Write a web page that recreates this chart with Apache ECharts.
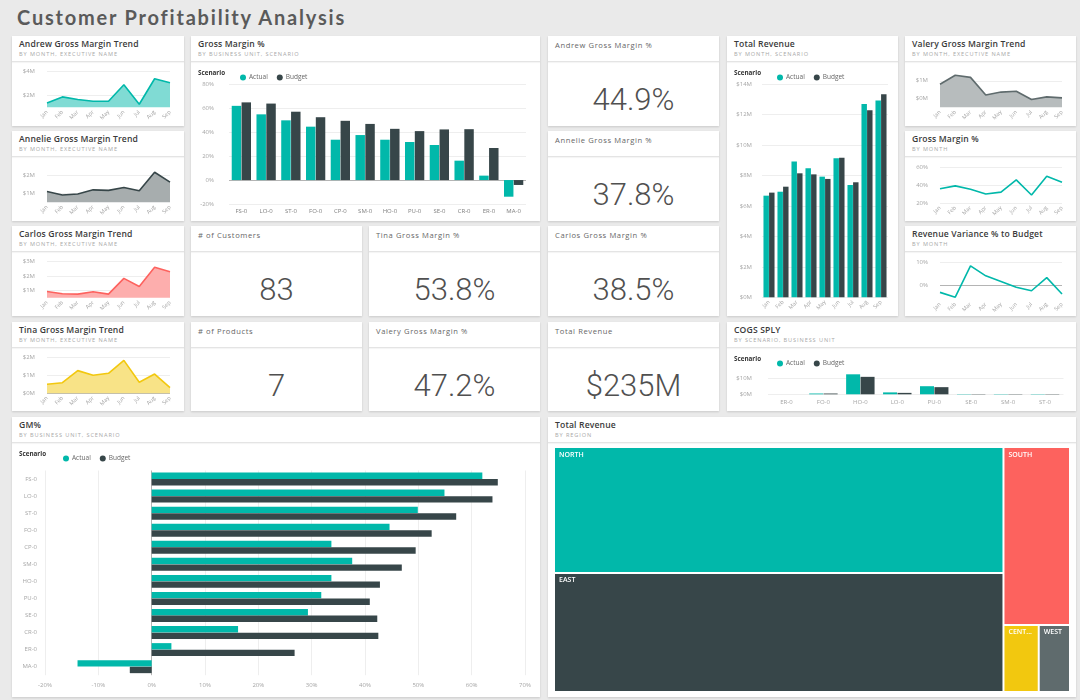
<!DOCTYPE html>
<html>
<head>
<meta charset="utf-8">
<script src="https://cdn.jsdelivr.net/npm/echarts@6/dist/echarts.min.js"></script>
<style>
  html,body{margin:0;padding:0;}
  body{width:1080px;height:700px;background:#eaeaea;overflow:hidden;position:relative;font-family:"Open Sans","Noto Sans",sans-serif;}
  .title{position:absolute;left:17px;top:5px;font-family:Lato,"Open Sans",sans-serif;font-weight:700;font-size:20px;color:#5a5a5a;letter-spacing:1.8px;}
  .tile{position:absolute;background:#fff;box-shadow:0 1px 2px rgba(0,0,0,0.14);}
  .hdr{position:absolute;left:0;top:0;right:0;height:25px;border-bottom:1px solid #e4e4e4;box-shadow:0 1px 1px rgba(0,0,0,0.04);}
  .t{position:absolute;left:7px;top:3px;font-size:8.6px;line-height:10px;font-weight:600;color:#3a3a3a;white-space:nowrap;letter-spacing:0.15px;}
  .s{position:absolute;left:7px;top:15px;font-size:5.6px;line-height:7px;color:#a8a8a8;white-space:nowrap;letter-spacing:0.9px;}
  .kt{position:absolute;left:7px;top:5px;font-size:7.6px;line-height:9px;color:#666;white-space:nowrap;letter-spacing:0.6px;}
  .body{position:absolute;left:0;right:0;top:26px;bottom:0;}
  .kv{position:absolute;left:0;right:0;top:22px;text-align:center;font-family:Roboto,"Open Sans",sans-serif;font-weight:300;font-size:31px;line-height:32px;color:#505050;}
</style>
</head>
<body>
<div class="title">Customer Profitability Analysis</div>
<script>
// ---------------- DATA ----------------
const months = ['Jan','Feb','Mar','Apr','May','Jun','Jul','Aug','Sep'];
const andrewGM  = [1.36, 1.86, 1.64, 1.50, 1.50, 2.86, 1.25, 3.36, 3.03];   // $M
const annelieGM = [1.11, 0.91, 0.97, 1.20, 1.17, 1.33, 1.15, 2.19, 1.63];   // $M
const carlosGM  = [0.93, 0.77, 0.75, 0.91, 0.75, 1.84, 1.28, 2.61, 2.30];   // $M
const tinaGM    = [0.50, 0.59, 1.26, 1.00, 1.11, 1.83, 0.61, 1.07, 0.31];   // $M
const valeryGM  = [0.80, 1.31, 1.19, 0.19, 0.36, 0.41, -0.06, 0.09, 0.03];  // $M
const gmPctByMonth = [35.9, 39.2, 35.5, 30.0, 32.2, 45.9, 28.9, 50.0, 43.3]; // %
const revVariancePct = [-2.9, -5.0, 8.6, 4.3, 1.8, -0.7, -2.2, 3.5, -3.6];  // %
const revenueActual = [6.68, 6.94, 8.92, 8.48, 7.93, 9.14, 7.38, 12.71, 12.93]; // $M
const revenueBudget = [6.88, 7.27, 8.15, 8.08, 7.78, 9.18, 7.56, 12.29, 13.35]; // $M

const units = ['FS-0','LO-0','ST-0','FO-0','CP-0','SM-0','HO-0','PU-0','SE-0','CR-0','ER-0','MA-0'];
const gmActual = [62.0, 54.9, 49.9, 44.6, 33.7, 37.6, 33.7, 31.8, 29.3, 16.2, 3.7, -13.9]; // %
const gmBudget = [64.9, 63.9, 57.1, 52.5, 49.5, 46.9, 42.8, 40.9, 42.3, 42.5, 26.8, -4.1]; // %

const cogsUnits  = ['ER-0','FO-0','HO-0','LO-0','PU-0','SE-0','SM-0','ST-0'];
const cogsActual = [0, 0.5, 12.6, 1.2, 5.1, 0.2, 0.2, 0.2]; // $M
const cogsBudget = [0, 0.5, 11.0, 0.9, 4.5, 0.2, 0.2, 0.2]; // $M

const regions = ['NORTH','EAST','SOUTH','CENTRAL','WEST'];
const regionRevenue = [105.2, 99.5, 22.0, 4.4, 3.9]; // $M

const kpiTitles = ['Andrew Gross Margin %','Annelie Gross Margin %','# of Customers','Tina Gross Margin %','Carlos Gross Margin %','# of Products','Valery Gross Margin %','Total Revenue'];
const kpiValues = ['44.9%','37.8%','83','53.8%','38.5%','7','47.2%','$' + Math.round(regionRevenue.reduce((a,b)=>a+b,0)) + 'M'];

// ---------------- STYLE ----------------
const FONT = '"Open Sans","Noto Sans",sans-serif';
const TEAL = '#01B8AA', DARK = '#374649', RED = '#FD625E', YEL = '#F2C80F', GREY = '#5F6B6D';
const regionColors = [TEAL, DARK, RED, YEL, GREY];

// ---------------- LAYOUT ----------------
const tiles = [
  {id:'andrew',  x:12,  y:36,  w:172, h:90,  t:'Andrew Gross Margin Trend',  s:'BY MONTH, EXECUTIVE NAME'},
  {id:'annelie', x:12,  y:131, w:172, h:90,  t:'Annelie Gross Margin Trend', s:'BY MONTH, EXECUTIVE NAME'},
  {id:'carlos',  x:12,  y:226, w:172, h:90,  t:'Carlos Gross Margin Trend',  s:'BY MONTH, EXECUTIVE NAME'},
  {id:'tina',    x:12,  y:322, w:172, h:89,  t:'Tina Gross Margin Trend',    s:'BY MONTH, EXECUTIVE NAME'},
  {id:'gmbu',    x:191, y:36,  w:349, h:185, t:'Gross Margin %',             s:'BY BUSINESS UNIT, SCENARIO'},
  {id:'k0', x:548, y:36,  w:171, h:90, k:0},
  {id:'k1', x:548, y:131, w:171, h:90, k:1},
  {id:'k2', x:191, y:226, w:171, h:90, k:2},
  {id:'k3', x:369, y:226, w:171, h:90, k:3},
  {id:'k4', x:548, y:226, w:171, h:90, k:4},
  {id:'k5', x:191, y:322, w:171, h:89, k:5},
  {id:'k6', x:369, y:322, w:171, h:89, k:6},
  {id:'k7', x:548, y:322, w:171, h:89, k:7},
  {id:'totrev',  x:727, y:36,  w:171, h:280, t:'Total Revenue',              s:'BY MONTH, SCENARIO'},
  {id:'valery',  x:905, y:36,  w:171, h:90,  t:'Valery Gross Margin Trend',  s:'BY MONTH, EXECUTIVE NAME'},
  {id:'gmmonth', x:905, y:131, w:171, h:90,  t:'Gross Margin %',             s:'BY MONTH'},
  {id:'revvar',  x:905, y:226, w:171, h:90,  t:'Revenue Variance % to Budget', s:'BY MONTH'},
  {id:'cogs',    x:727, y:322, w:349, h:89,  t:'COGS SPLY',                  s:'BY SCENARIO, BUSINESS UNIT'},
  {id:'gmh',     x:12,  y:417, w:528, h:280, t:'GM%',                        s:'BY BUSINESS UNIT, SCENARIO'},
  {id:'tree',    x:548, y:417, w:528, h:280, t:'Total Revenue',              s:'BY REGION'}
];
tiles.forEach(tl => {
  const d = document.createElement('div');
  d.className = 'tile';
  d.style.cssText = `left:${tl.x}px;top:${tl.y}px;width:${tl.w}px;height:${tl.h}px;`;
  if (tl.k !== undefined) {
    d.innerHTML = `<div class="hdr"><div class="kt">${kpiTitles[tl.k]}</div></div><div class="body"><div class="kv">${kpiValues[tl.k]}</div></div>`;
  } else {
    d.innerHTML = `<div class="hdr"><div class="t">${tl.t}</div><div class="s">${tl.s}</div></div><div class="body" id="c_${tl.id}"></div>`;
  }
  document.body.appendChild(d);
});

// ---------------- HELPERS ----------------
function near(arr, v){ return arr.some(a => Math.abs(a - v) < 1e-6); }
function tickList(min, max, step){ const r=[]; for(let v=min; v<=max+1e-9; v+=step) r.push(+v.toFixed(6)); return r; }
function lineColors(min, max, step, grid, zero){
  return tickList(min,max,step).map(v => near(zero||[], v) ? '#b4b4b4' : (near(grid, v) ? '#eeeeee' : 'rgba(0,0,0,0)'));
}
const monthAxis = (rot) => ({
  type:'category', data:months, axisLine:{show:false}, axisTick:{show:false},
  axisLabel:{rotate:rot, interval:0, fontSize:5.5, color:'#a6a6a6', margin:4, fontFamily:FONT}
});
function legendBits(left){
  return {
    graphic:[{type:'text', left:7, top:8, style:{text:'Scenario', fontSize:6.3, fontWeight:'bold', fill:'#333', fontFamily:FONT}}],
    legend:{data:['Actual','Budget'], left:left, top:7, icon:'circle', itemWidth:6, itemHeight:6, itemGap:9,
      textStyle:{fontSize:6.5, color:'#666', fontFamily:FONT, padding:[0,0,0,-2]}}
  };
}

function trendChart(id, data, o){
  const ch = echarts.init(document.getElementById('c_' + id));
  const xa = monthAxis(45); xa.boundaryGap = false;
  ch.setOption({
    animation:false,
    grid:{left:35, right:14, top:o.top, bottom:o.bottom},
    xAxis: xa,
    yAxis:{type:'value', min:o.min, max:o.max, interval:o.interval,
      axisLine:{show:false}, axisTick:{show:false},
      axisLabel:{fontSize:6, color:'#a6a6a6', margin:12, fontFamily:FONT, formatter: v => near(o.labels, v) ? o.fmt(v) : ''},
      splitLine:{show:true, lineStyle:{width:1, color: lineColors(o.min, o.max, o.interval, o.labels, o.zero)}}},
    series:[{type:'line', data:data, symbol:'none', lineStyle:{color:o.color, width:1.6},
      areaStyle: o.fill ? {color:o.fill, opacity:1, origin:'start'} : null}]
  });
}
const money = v => '$' + v + 'M';
const pct = v => v + '%';

trendChart('andrew',  andrewGM,  {min:1,   max:4,   interval:1,   labels:[2,4],   fmt:money, color:TEAL, fill:'#80dbd4', top:9,   bottom:18.7});
trendChart('annelie', annelieGM, {min:0.5, max:2.5, interval:0.5, labels:[1,2],   fmt:money, color:DARK, fill:'#a7adae', top:9.7, bottom:18.7});
trendChart('carlos',  carlosGM,  {min:0.5, max:3,   interval:0.5, labels:[1,2,3], fmt:money, color:RED,  fill:'#fdaead', top:9.7, bottom:18.3});
trendChart('tina',    tinaGM,    {min:0,   max:2,   interval:1,   labels:[0,1,2], zero:[0], fmt:money, color:YEL, fill:'#f8e387', top:9.3, bottom:17.7});
trendChart('valery',  valeryGM,  {min:-0.5,max:1.5, interval:0.5, labels:[0,1],   fmt:money, color:GREY, fill:'#b7bcbd', top:9.9, bottom:18.7});
trendChart('gmmonth', gmPctByMonth, {min:20, max:60, interval:20, labels:[20,40,60], fmt:pct, color:TEAL, top:10.3, bottom:18});
trendChart('revvar',  revVariancePct, {min:-6, max:10, interval:2, labels:[0,10], zero:[0], fmt:pct, color:TEAL, top:10.7, bottom:16.5});

// Gross Margin % by business unit (vertical bars)
(function(){
  const ch = echarts.init(document.getElementById('c_gmbu'));
  ch.setOption(Object.assign({
    animation:false,
    grid:{left:38, right:14, top:22.3, bottom:17},
    xAxis:{type:'category', data:units, axisLine:{show:false}, axisTick:{show:false},
      axisLabel:{interval:0, fontSize:6, color:'#808080', margin:4, fontFamily:FONT}},
    yAxis:{type:'value', min:-20, max:80, interval:20, axisLine:{show:false}, axisTick:{show:false},
      axisLabel:{formatter:pct, fontSize:6, color:'#a6a6a6', margin:15, fontFamily:FONT},
      splitLine:{lineStyle:{width:1, color: lineColors(-20,80,20,[-20,20,40,60,80],[0])}}},
    series:[
      {name:'Actual', type:'bar', data:gmActual, itemStyle:{color:TEAL}, barGap:'4%', barCategoryGap:'22%'},
      {name:'Budget', type:'bar', data:gmBudget, itemStyle:{color:DARK}, barGap:'4%', barCategoryGap:'22%'}
    ]
  }, legendBits(44)));
})();

// Total Revenue by month (vertical bars)
(function(){
  const ch = echarts.init(document.getElementById('c_totrev'));
  ch.setOption(Object.assign({
    animation:false,
    grid:{left:35, right:10, top:22.3, bottom:18.7},
    xAxis: monthAxis(45),
    yAxis:{type:'value', min:0, max:14, interval:2, axisLine:{show:false}, axisTick:{show:false},
      axisLabel:{formatter:money, fontSize:6, color:'#a6a6a6', margin:10, fontFamily:FONT},
      splitLine:{lineStyle:{width:1, color:'#eeeeee'}}},
    series:[
      {name:'Actual', type:'bar', data:revenueActual, itemStyle:{color:TEAL}, barGap:'3%', barCategoryGap:'21%'},
      {name:'Budget', type:'bar', data:revenueBudget, itemStyle:{color:DARK}, barGap:'3%', barCategoryGap:'21%'}
    ]
  }, legendBits(45)));
})();

// COGS SPLY
(function(){
  const ch = echarts.init(document.getElementById('c_cogs'));
  ch.setOption(Object.assign({
    animation:false,
    grid:{left:41, right:12.5, top:22.5, bottom:16.7},
    xAxis:{type:'category', data:cogsUnits, axisLine:{show:false}, axisTick:{show:false},
      axisLabel:{interval:0, fontSize:6, color:'#a6a6a6', margin:5, fontFamily:FONT}},
    yAxis:{type:'value', min:0, max:15, interval:5, axisLine:{show:false}, axisTick:{show:false},
      axisLabel:{formatter: v => near([0,10], v) ? money(v) : '', fontSize:6, color:'#a6a6a6', margin:16, fontFamily:FONT},
      splitLine:{lineStyle:{width:1, color: lineColors(0,15,5,[0,10])}}},
    series:[
      {name:'Actual', type:'bar', data:cogsActual, itemStyle:{color:TEAL}, barGap:'3%', barCategoryGap:'23%'},
      {name:'Budget', type:'bar', data:cogsBudget, itemStyle:{color:DARK}, barGap:'3%', barCategoryGap:'23%'}
    ]
  }, legendBits(45)));
})();

// GM% horizontal bars
(function(){
  const ch = echarts.init(document.getElementById('c_gmh'));
  ch.setOption(Object.assign({
    animation:false,
    grid:{left:33, right:15, top:27.5, bottom:21.8},
    xAxis:{type:'value', min:-20, max:70, interval:10, axisLine:{show:false}, axisTick:{show:false},
      axisLabel:{formatter:pct, fontSize:6, color:'#a6a6a6', margin:7, fontFamily:FONT},
      splitLine:{lineStyle:{width:1, color: lineColors(-20,70,10,[-20,-10,10,20,30,40,50,60,70],[0])}}},
    yAxis:{type:'category', data:units, inverse:true, axisLine:{show:false}, axisTick:{show:false},
      axisLabel:{interval:0, fontSize:6, color:'#a6a6a6', margin:8, fontFamily:FONT}},
    series:[
      {name:'Actual', type:'bar', data:gmActual, itemStyle:{color:TEAL}, barGap:'3%', barCategoryGap:'24%'},
      {name:'Budget', type:'bar', data:gmBudget, itemStyle:{color:DARK}, barGap:'3%', barCategoryGap:'24%'}
    ]
  }, legendBits(46)));
})();

// Treemap by region
(function(){
  const ch = echarts.init(document.getElementById('c_tree'));
  ch.setOption({
    animation:false,
    series:[{
      type:'treemap', left:7, top:5, right:7, bottom:6, roam:false, nodeClick:false,
      breadcrumb:{show:false}, squareRatio:3, sort:'desc',
      label:{show:true, position:'insideTopLeft', fontSize:7, fontWeight:600, color:'#fff', fontFamily:FONT,
        padding:[3,4], overflow:'truncate', ellipsis:'...'},
      upperLabel:{show:false},
      itemStyle:{gapWidth:2, borderWidth:0, borderColor:'#fff'},
      levels:[{itemStyle:{gapWidth:2, borderWidth:0}}],
      data: regions.map((r,i) => ({name:r, value:regionRevenue[i], itemStyle:{color:regionColors[i]}}))
    }]
  });
})();
</script>
</body>
</html>
